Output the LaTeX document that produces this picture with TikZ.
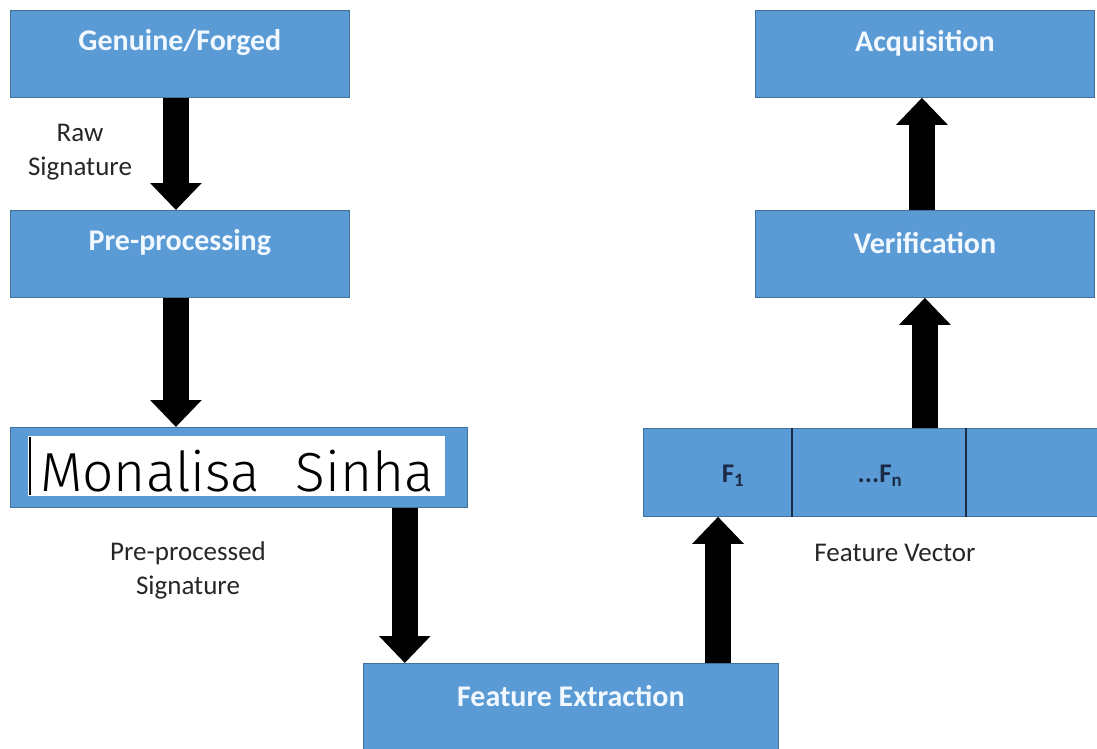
\documentclass[tikz,border=0pt]{standalone}
\usepackage{fontspec}
\setmainfont{Carlito}
\newfontfamily\handfont{Fira Sans Light}
\usetikzlibrary{arrows.meta,calc}
\definecolor{boxblue}{HTML}{5B9BD5}
\definecolor{boxedge}{HTML}{41719C}
\definecolor{labelgray}{HTML}{262626}
\definecolor{boxtext}{HTML}{F2F8FF}
\definecolor{cellink}{HTML}{1B2A47}
\begin{document}
\begin{tikzpicture}[x=1pt,y=-1pt,
  stage/.style={draw=boxedge, line width=0.8pt, fill=boxblue, inner sep=0pt,
                minimum height=87pt, anchor=north west},
  stagetext/.style={text=boxtext, font=\fontsize{30}{30}\selectfont\bfseries, inner sep=0pt},
  celltext/.style={text=cellink, font=\fontsize{27}{27}\selectfont\bfseries, inner sep=0pt},
  flow/.style={line width=26pt, black, -{Triangle[width=50pt,length=27pt]}},
  note/.style={text=labelgray, font=\fontsize{27}{34}\selectfont, align=center, inner sep=0pt}
]
\useasboundingbox (0,0) rectangle (1097,749);

% processing stages
\node[stage, minimum width=339pt] (gen) at (10,10) {};
\node[stage, minimum width=339pt] (pre) at (10,210) {};
\node[stage, minimum width=457pt, minimum height=80pt] (sig) at (10,427) {};
\node[stage, minimum width=415pt, minimum height=100pt] (fe) at (363,663) {};
\node[stage, minimum width=470pt, minimum height=88pt] (vec) at (643,428) {};
\node[stage, minimum width=339pt] (ver) at (755,210) {};
\node[stage, minimum width=339pt] (acq) at (755,10) {};

% stage captions
\node[stagetext] (gent) at ($(gen.north)+(0,33)$) {Genuine/Forged};
\node[stagetext] (pret) at ($(pre.north)+(0,33)$) {Pre-processing};
\node[stagetext] (fet) at ($(fe.north)+(0,33)$) {Feature Extraction};
\node[stagetext] (vert) at ($(ver.north)+(0,33)$) {Verification};
\node[stagetext] (acqt) at ($(acq.north)+(0,33)$) {Acquisition};

% signature sample
\node[fill=white, inner sep=0pt, minimum width=417pt, minimum height=60pt, anchor=north west]
  (sheet) at (28,436) {};
\draw[black, line width=2pt] ([xshift=1.5pt,yshift=-1pt]sheet.north west) -- ([xshift=1.5pt,yshift=1pt]sheet.south west);
\node[anchor=base west, inner sep=0pt, text=black, font=\handfont\fontsize{55}{55}\selectfont]
  (hand) at (40,491) {Monalisa\hspace{36pt}Sinha};

% feature vector cells
\draw[cellink, line width=1.2pt] ([xshift=149pt]vec.north west) -- ([xshift=149pt]vec.south west);
\draw[cellink, line width=1.2pt] ([xshift=323pt]vec.north west) -- ([xshift=323pt]vec.south west);
\node[celltext] (f1) at ($(vec.west)+(90,3)$) {F\textsubscript{1}};
\node[celltext] (fn) at ($(vec.west)+(237,3)$) {...F\textsubscript{n}};

% flow arrows
\draw[flow] ([xshift=-4pt]gen.south) -- ([xshift=-4pt]pre.north);
\draw[flow] ([xshift=-4pt]pre.south) -- ([xshift=-4pt]pre.south |- sig.north);
\coordinate (a3) at ([xshift=-63pt]sig.south east);
\draw[flow] (a3) -- (a3 |- fe.north);
\coordinate (a4) at ([xshift=75pt]vec.south west);
\draw[flow] (a4 |- fe.north) -- (a4);
\draw[flow] (ver.south |- vec.north) -- (ver.south);
\draw[flow] ([xshift=-3pt]ver.north) -- ([xshift=-3pt]acq.south);

% annotations
\node[note] (rawlbl) at (80,152) {Raw\\Signature};
\node[note] (pplbl) at (188,570) {Pre-processed\\Signature};
\node[note] (fvlbl) at (895,553) {Feature Vector};
\end{tikzpicture}
\end{document}
